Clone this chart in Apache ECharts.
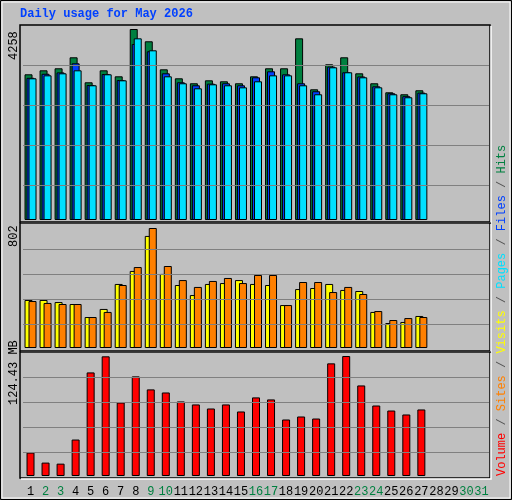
<!DOCTYPE html>
<html><head><meta charset="utf-8">
<script src="https://cdn.jsdelivr.net/npm/echarts@6/dist/echarts.min.js"></script>
<style>html,body{margin:0;padding:0;background:#c0c0c0}#c{width:512px;height:500px}</style>
</head><body><div id="c"></div>
<script>
const days = Array.from({length:31},(_,i)=>String(i+1));
const weekendDays = ['2','3','9','10','16','17','23','24','30','31'];
const hits  = [3248,3337,3382,3627,3070,3337,3203,4258,3984,3359,3159,3048,3114,3092,3048,3203,3382,3382,4050,2914,3471,3627,3270,3048,2847,2803,2892];
const files = [3170,3260,3290,3493,3010,3255,3120,3924,3761,3270,3070,3003,3040,3048,3003,3181,3315,3248,3048,2870,3420,3293,3200,2980,2825,2760,2840];
const pages = [3159,3225,3270,3337,3003,3248,3114,4050,3783,3203,3048,2936,3025,3003,2958,3092,3225,3225,3003,2803,3404,3293,3181,2958,2803,2736,2825];
const visits = [321,321,307,294,207,261,428,515,749,495,421,354,428,434,454,428,421,287,394,401,428,388,381,241,167,174,214];
const sites  = [314,301,294,294,207,241,421,541,802,548,454,408,448,468,434,488,488,287,441,441,374,408,361,247,187,200,207];
const volume = [24.3,13.9,12.8,37.8,107.4,124.1,76.2,103.3,89.8,86.6,77.3,74.2,70.0,74.2,66.9,81.5,79.4,58.6,61.7,59.6,116.8,124.4,93.9,73.1,67.9,63.8,69.0];
const max1 = 4258, max2 = 802, max3 = 124.43;
const grid1 = [780,1670,2562,3455], grid2 = [160,327,495,662], grid3 = [24.3,50.3,76.3,102.3];

const font = 'Liberation Mono, DejaVu Sans Mono, monospace';
const ml = vals => ({silent:true,symbol:'none',label:{show:false},lineStyle:{color:'#808080',type:'solid',width:1},data:vals.map(v=>({yAxis:v}))});
const bs = c => ({color:c,borderColor:'#000',borderWidth:1});
const L = 23, W = 466;
const grids = [{left:L,width:W,top:29,height:191},{left:L,width:W,top:228,height:120},{left:L,width:W,top:356,height:120}];
const xA = i => ({type:'category',gridIndex:i,data:days,axisLine:{show:false},axisTick:{show:false},
  axisLabel:{show:i===2,margin:10,fontFamily:font,fontSize:12,color:v=>weekendDays.includes(v)?'#008040':'#000',interval:0}});
const yA = (i,m) => ({type:'value',gridIndex:i,min:0,max:m,show:false,splitLine:{show:false}});
const panel = (y,h)=>[
 {type:'rect',shape:{x:20,y:y,width:470,height:h},style:{fill:'none',stroke:'#000',lineWidth:1.5},z:-1},
 {type:'polyline',shape:{points:[[21,y+h+1],[491,y+h+1],[491,y+1]]},style:{stroke:'#fff',lineWidth:1.5,fill:'none'},z:-1}
];
const leg = ['Volume','Sites','Visits','Pages','Files','Hits'];
const legC = ['#ff0000','#ff8000','#ffff00','#00e0ff','#0040ff','#008040'];
let rich = {s:{fill:'#505050',fontFamily:font,fontSize:12}};
let txt = '';
leg.forEach((n,i)=>{rich['k'+i]={fill:legC[i],fontFamily:font,fontSize:12}; txt += '{k'+i+'|'+n+'}' + (i<5?'{s| / }':'');});

const chart = echarts.init(document.getElementById('c'));
chart.setOption({
 backgroundColor:'#c0c0c0',animation:false,
 grid:grids,
 xAxis:[xA(0),xA(1),xA(2)],
 yAxis:[yA(0,max1),yA(1,max2),yA(2,max3)],
 series:[
  {type:'bar',xAxisIndex:0,yAxisIndex:0,data:hits,barWidth:8,barGap:'-75%',itemStyle:bs('#008040'),markLine:ml(grid1),z:1},
  {type:'bar',xAxisIndex:0,yAxisIndex:0,data:files,barWidth:8,barGap:'-75%',itemStyle:bs('#0040ff'),z:2},
  {type:'bar',xAxisIndex:0,yAxisIndex:0,data:pages,barWidth:8,barGap:'-75%',itemStyle:bs('#00e0ff'),z:3},
  {type:'bar',xAxisIndex:1,yAxisIndex:1,data:visits,barWidth:8,barGap:'-50%',itemStyle:bs('#ffff00'),markLine:ml(grid2)},
  {type:'bar',xAxisIndex:1,yAxisIndex:1,data:sites,barWidth:8,barGap:'-50%',itemStyle:bs('#ff8000')},
  {type:'bar',xAxisIndex:2,yAxisIndex:2,data:volume,barWidth:8,itemStyle:bs('#ff0000'),markLine:ml(grid3)}
 ],
 graphic:[
  {type:'rect',shape:{x:0.5,y:0.5,width:511,height:499},style:{fill:'none',stroke:'#000',lineWidth:1},z:-2},
  {type:'rect',shape:{x:2,y:2,width:508,height:496},style:{fill:'none',stroke:'#fff',lineWidth:1},z:-2},
  {type:'text',left:20,top:8,style:{text:'Daily usage for May 2026',fill:'#0040ff',font:'bold 12px '+font}},
  ...panel(25,197),...panel(223,128),...panel(352,126),
  {type:'text',x:8,y:60,rotation:Math.PI/2,style:{text:max1.toString(),fill:'#000',font:'12px '+font,align:'left',verticalAlign:'top'}},
  {type:'text',x:8,y:247,rotation:Math.PI/2,style:{text:String(max2),fill:'#000',font:'12px '+font,align:'left',verticalAlign:'top'}},
  {type:'text',x:8,y:405,rotation:Math.PI/2,style:{text:max3+' MB',fill:'#000',font:'12px '+font,align:'left',verticalAlign:'top'}},
  {type:'text',x:496,y:476,rotation:Math.PI/2,style:{text:txt,rich:rich,font:'12px '+font,align:'left',verticalAlign:'top'}}
 ]
});
</script></body></html>
